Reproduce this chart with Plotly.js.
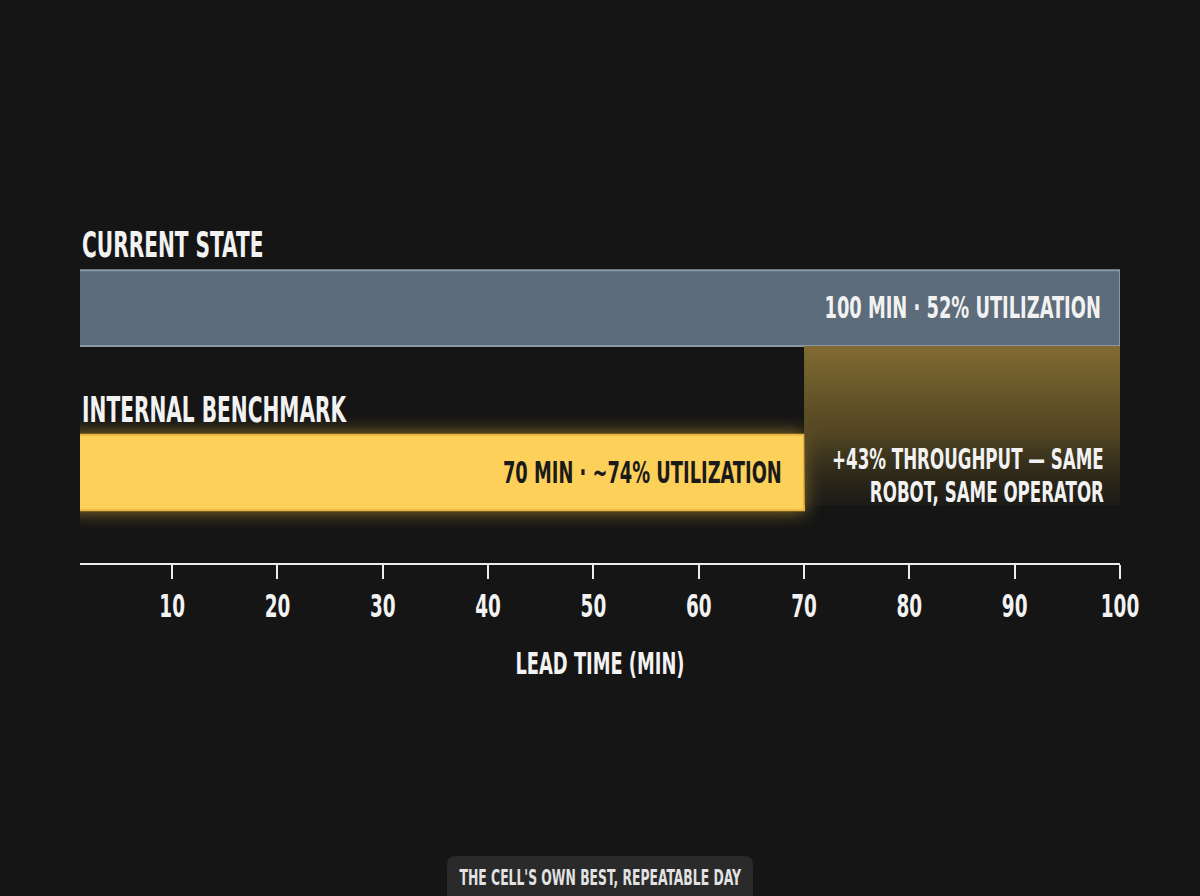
<!DOCTYPE html>
<html>
<head>
<meta charset="utf-8">
<script src="https://cdn.plot.ly/plotly-3.0.1.min.js"></script>
<style>
  html, body { margin: 0; padding: 0; background: #151515; }
  #chart { width: 1200px; height: 896px; }
</style>
</head>
<body>
<div id="chart"></div>
<script>
// ---- data ----
const categories = ['CURRENT STATE', 'INTERNAL BENCHMARK'];
const leadTimes = [100, 70];                 // minutes
const utilization = ['52%', '~74%'];
const tickValues = [10, 20, 30, 40, 50, 60, 70, 80, 90, 100];
const gainText = ['+43% THROUGHPUT — SAME', 'ROBOT, SAME OPERATOR'];
const axisTitle = 'LEAD TIME (MIN)';
const caption = "THE CELL'S OWN BEST, REPEATABLE DAY";

// ---- styling helpers ----
const FONT = '"DejaVu Sans Condensed", "DejaVu Sans", sans-serif';
const SQUEEZE = 0.64;   // horizontal condensing of glyphs (poster-style narrow face)
const rowPos = [1, 0];
const barW = 0.46;
const barFill = ['#5d6c7b', '#fdd05a'];
const barLine = ['#8a99a7', '#e8b63f'];
const labelColor = ['#f2f2f2', '#1a1a1a'];

const barTrace = {
  type: 'bar',
  orientation: 'h',
  x: leadTimes,
  y: rowPos,
  width: barW,
  marker: { color: barFill, line: { color: barLine, width: 2 } },
  hoverinfo: 'skip',
  showlegend: false
};

// gap region between benchmark end and current end
const lo = leadTimes[1], hi = leadTimes[0];
const gapTop = rowPos[0] - barW / 2;
const gapBottom = rowPos[1] - 0.2;
const gapTrace = {
  type: 'scatter',
  mode: 'none',
  x: [lo, hi, hi, lo, lo],
  y: [gapTop, gapTop, gapBottom, gapBottom, gapTop],
  fill: 'toself',
  fillgradient: {
    type: 'vertical',
    start: gapBottom,
    stop: gapTop,
    colorscale: [[0, 'rgba(60,52,28,0.2)'], [0.45, 'rgba(98,82,38,0.8)'], [1, 'rgba(130,108,50,1)']]
  },
  hoverinfo: 'skip',
  showlegend: false
};

const annotations = [];
categories.forEach((c, i) => {
  annotations.push({
    text: c, xref: 'paper', x: 0, xanchor: 'left',
    yref: 'y', y: rowPos[i] + barW / 2, yanchor: 'bottom', yshift: 3,
    showarrow: false,
    font: { family: FONT, size: 35, color: '#f2f2f2', weight: 'bold' }
  });
  annotations.push({
    text: leadTimes[i] + ' MIN · ' + utilization[i] + ' UTILIZATION',
    xref: 'x', x: leadTimes[i], xanchor: 'right', xshift: i === 0 ? -17 : -20,
    yref: 'y', y: rowPos[i], yanchor: 'middle', yshift: 1,
    showarrow: false,
    font: { family: FONT, size: 31, color: labelColor[i], weight: 'bold' }
  });
});
gainText.forEach((t, k) => {
  annotations.push({
    text: t,
    xref: 'x', x: hi, xanchor: 'right', xshift: -14,
    yref: 'y', y: rowPos[1], yanchor: 'middle', yshift: k === 0 ? 14 : -19,
    showarrow: false,
    font: { family: FONT, size: 29, color: '#f2f2f2', weight: 'bold' }
  });
});
annotations.push({
  text: caption,
  xref: 'paper', x: 0.5, xanchor: 'center',
  yref: 'paper', y: (563 - 877) / 313, yanchor: 'middle',
  showarrow: false,
  font: { family: FONT, size: 21.5, color: '#e2e2e2', weight: 'bold' }
});

// rounded caption box in paper coords (plot area 80..1120 x 250..563)
function px2x(p) { return (p - 80) / 1040; }
function px2y(p) { return (563 - p) / 313; }
const bx0 = 447, bx1 = 753, by0 = 856, by1 = 905, r = 9;
const boxPath = [
  'M', px2x(bx0 + r), px2y(by0),
  'L', px2x(bx1 - r), px2y(by0),
  'Q', px2x(bx1), px2y(by0), px2x(bx1), px2y(by0 + r),
  'L', px2x(bx1), px2y(by1),
  'L', px2x(bx0), px2y(by1),
  'L', px2x(bx0), px2y(by0 + r),
  'Q', px2x(bx0), px2y(by0), px2x(bx0 + r), px2y(by0),
  'Z'
].join(' ');

const layout = {
  width: 1200, height: 896,
  paper_bgcolor: '#151515', plot_bgcolor: '#151515',
  margin: { l: 80, r: 80, t: 250, b: 333 },
  showlegend: false,
  xaxis: {
    range: [1.25, 100],
    tickvals: tickValues,
    ticktext: tickValues.map(String),
    ticks: 'outside', ticklen: 14, tickwidth: 2, tickcolor: '#ececec',
    showline: true, linecolor: '#ececec', linewidth: 2,
    showgrid: false, zeroline: false,
    tickfont: { family: FONT, size: 32, color: '#f2f2f2', weight: 'bold' },
    title: { text: axisTitle, standoff: 28, font: { family: FONT, size: 31, color: '#f2f2f2', weight: 'bold' } },
    fixedrange: true
  },
  yaxis: {
    range: [-0.55, 1.353],
    showticklabels: false, showgrid: false, zeroline: false, showline: false, ticks: '',
    fixedrange: true
  },
  shapes: [{
    type: 'path', xref: 'paper', yref: 'paper', path: boxPath,
    fillcolor: '#2a2a2a', line: { width: 0 }, layer: 'below'
  }],
  annotations: annotations
};

function squeeze(el, mode) {
  const b = el.getBBox();
  const ax = mode === 'left' ? b.x : mode === 'right' ? b.x + b.width : b.x + b.width / 2;
  const prev = el.getAttribute('transform') || '';
  el.setAttribute('transform', prev + ' translate(' + ax + ',0) scale(' + SQUEEZE + ',1) translate(' + (-ax) + ',0)');
}

Plotly.newPlot('chart', [gapTrace, barTrace], layout, { displayModeBar: false, staticPlot: true }).then(() => {
  const pts = document.querySelectorAll('.barlayer .point path');
  if (pts[1]) pts[1].style.filter = 'drop-shadow(0 0 9px rgba(255,200,60,0.55))';
  document.querySelectorAll('g.annotation').forEach(g => {
    const i = +g.getAttribute('data-index');
    const t = g.querySelector('text.annotation-text');
    if (t) squeeze(t, layout.annotations[i].xanchor);
  });
  document.querySelectorAll('.xtick text').forEach(t => squeeze(t, 'center'));
  document.querySelectorAll('.g-xtitle text').forEach(t => squeeze(t, 'center'));
});
</script>
</body>
</html>
